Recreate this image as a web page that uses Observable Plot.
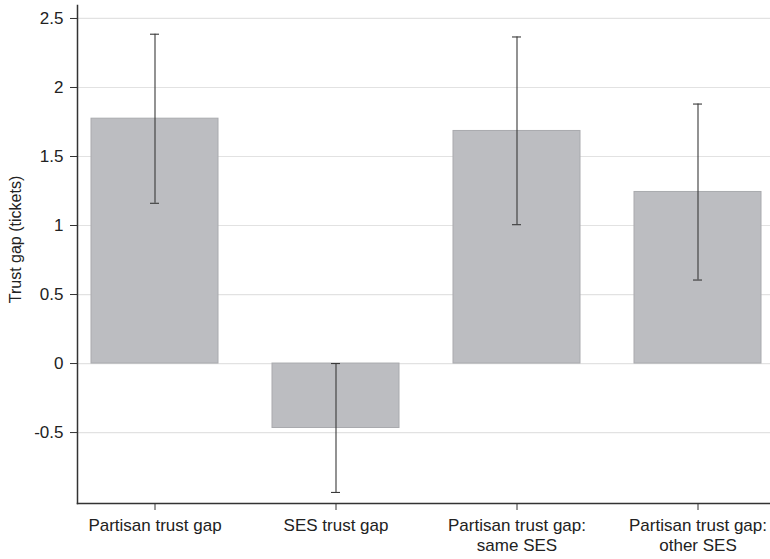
<!DOCTYPE html>
<html>
<head>
<meta charset="utf-8">
<script src="https://cdn.jsdelivr.net/npm/d3@7"></script>
<script src="https://cdn.jsdelivr.net/npm/@observablehq/plot@0.6"></script>
<style>
  html, body { margin: 0; padding: 0; background: #fff; }
</style>
</head>
<body>
<div id="chart"></div>
<script>
const categories = [
  "Partisan trust gap",
  "SES trust gap",
  "Partisan trust gap:\nsame SES",
  "Partisan trust gap:\nother SES"
];
const gapValues = [1.774, -0.467, 1.685, 1.243];
const ciLow = [1.161, -0.934, 1.006, 0.605];
const ciHigh = [2.386, 0.0, 2.366, 1.880];
const yTicks = [-0.5, 0, 0.5, 1, 1.5, 2, 2.5];
const yLabel = "Trust gap (tickets)";

const data = categories.map((c, i) => ({cat: c, gap: gapValues[i], lo: ciLow[i], hi: ciHigh[i]}));

const chart = Plot.plot({
  width: 770,
  height: 559,
  marginLeft: 77,
  marginRight: 0,
  marginTop: 5,
  marginBottom: 56,
  style: {fontFamily: "'Liberation Sans', Arial, Helvetica, sans-serif", fontSize: "17px", color: "#222", background: "#fff"},
  x: {domain: categories, range: [77, 775], paddingInner: 0.2967, paddingOuter: 0.066, label: null},
  y: {domain: [-1.014, 2.594], label: null},
  marks: [
    Plot.gridY(yTicks, {stroke: "#e2e2e2", strokeOpacity: 1, strokeWidth: 1.2}),
    Plot.barY(data, {x: "cat", y: "gap", fill: "#bcbdc1", stroke: "#a9aaae", strokeWidth: 1}),
    Plot.ruleX(data, {x: "cat", y1: "lo", y2: "hi", stroke: "#3a3a3a", strokeWidth: 1.1}),
    Plot.tickY(data, {x: "cat", y: "lo", insetLeft: 59, insetRight: 59, stroke: "#3a3a3a", strokeWidth: 1.1}),
    Plot.tickY(data, {x: "cat", y: "hi", insetLeft: 59, insetRight: 59, stroke: "#3a3a3a", strokeWidth: 1.1}),
    Plot.axisY(yTicks, {tickSize: 7, tickPadding: 7, tickFormat: d => String(d), stroke: "#333", fill: "#222", label: null}),
    Plot.text([yLabel], {text: d => d, frameAnchor: "left", rotate: -90, dx: -62, dy: -15, fontSize: 16, fill: "#222", textAnchor: "middle"}),
    Plot.axisX({tickSize: 7, tickPadding: 6, lineHeight: 1.18, stroke: "#333", fill: "#222", label: null}),
    Plot.frame({anchor: "left", stroke: "#333", strokeWidth: 1.5}),
    Plot.frame({anchor: "bottom", stroke: "#333", strokeWidth: 1.5})
  ]
});
document.getElementById("chart").appendChild(chart);
</script>
</body>
</html>
